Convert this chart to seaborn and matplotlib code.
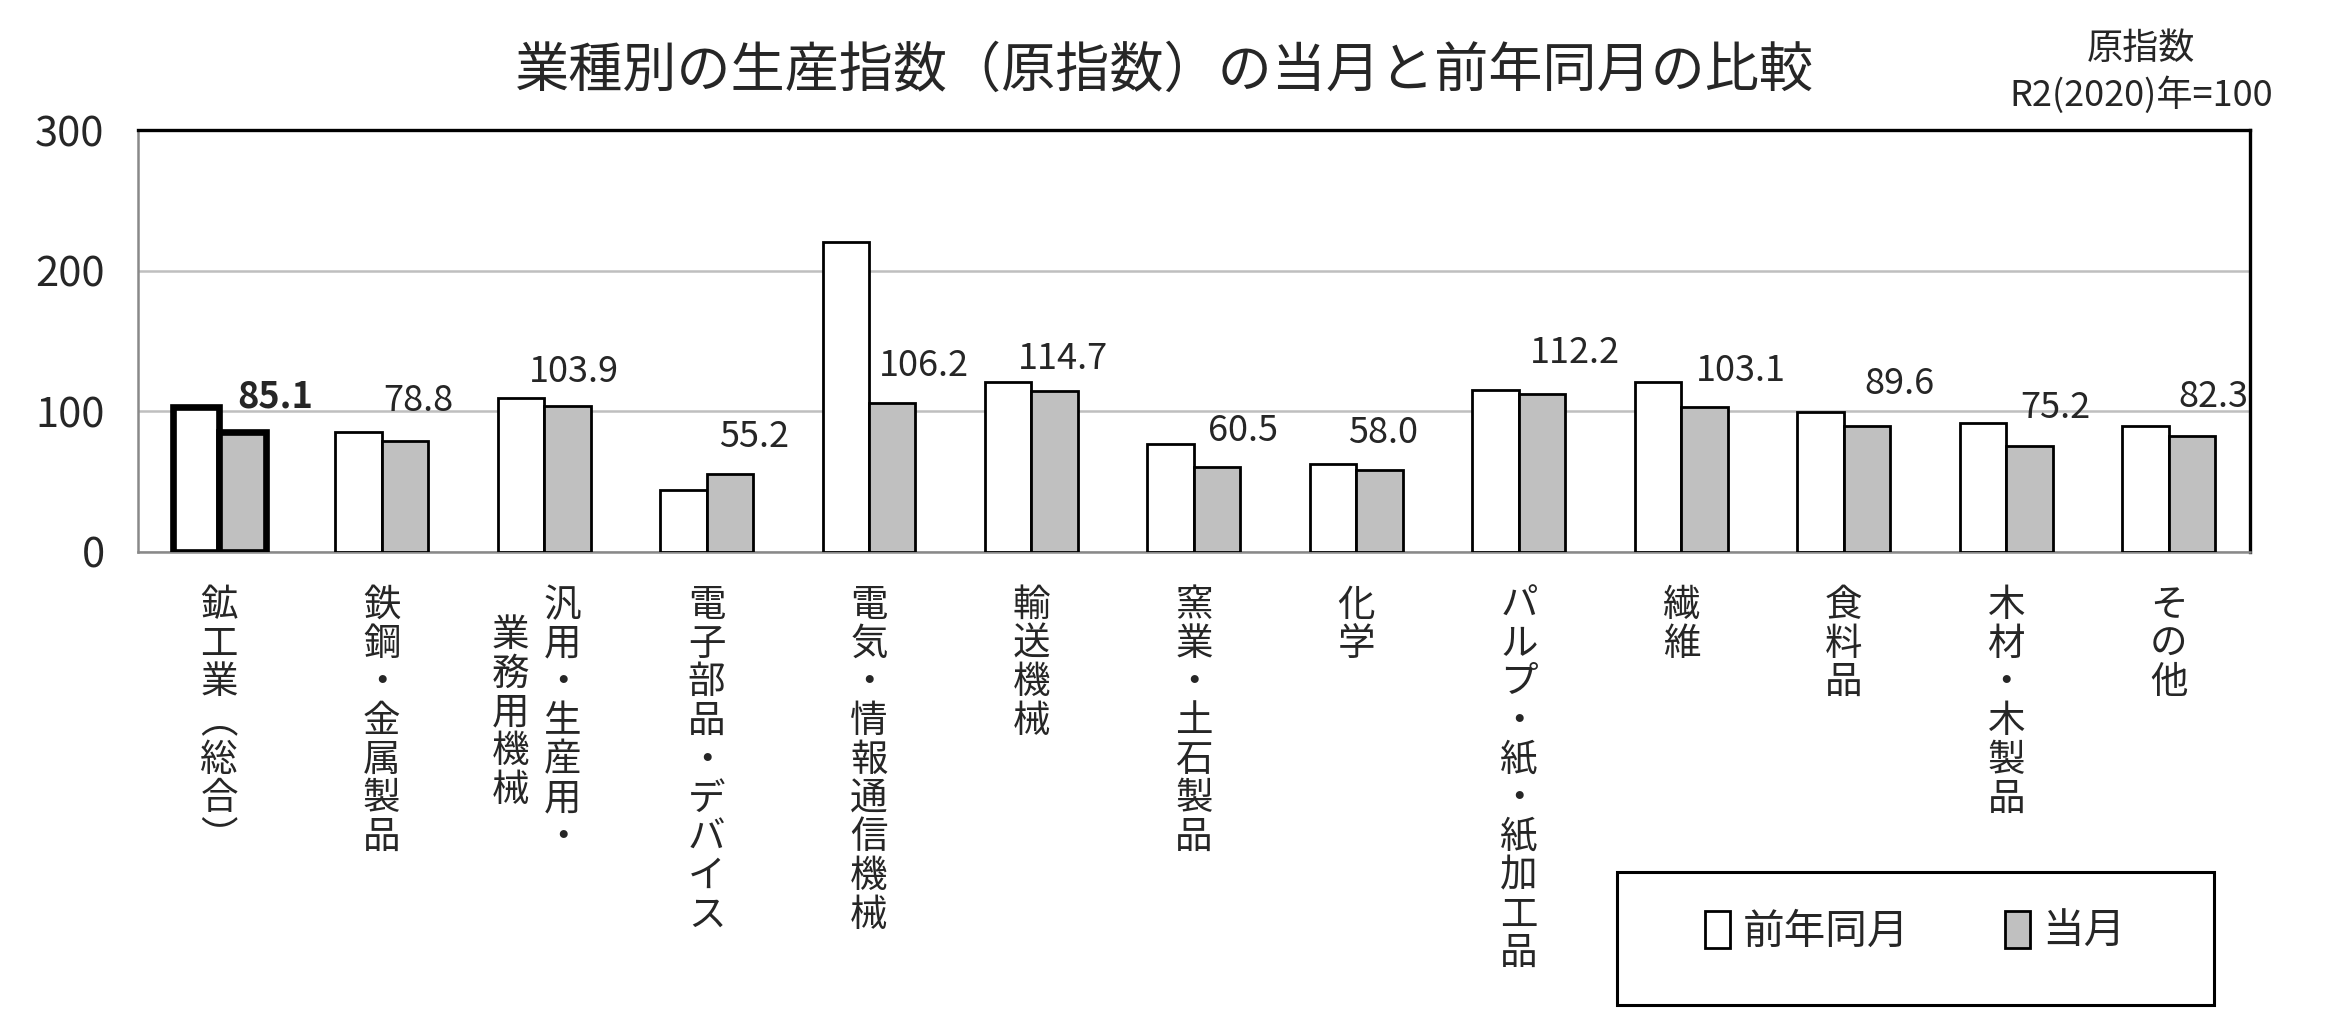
import numpy as np
import pandas as pd
import matplotlib
matplotlib.use("Agg")
import matplotlib.pyplot as plt
import seaborn as sns
from matplotlib.patches import Patch, Rectangle

# データ
categories = ["鉱工業（総合）", "鉄鋼・金属製品", "汎用・生産用・業務用機械", "電子部品・デバイス",
              "電気・情報通信機械", "輸送機械", "窯業・土石製品", "化学", "パルプ・紙・紙加工品",
              "繊維", "食料品", "木材・木製品", "その他"]
prev_year = [102.9, 85.7, 109.5, 44.0, 220.7, 120.7, 76.9, 62.4, 115.5, 121.0, 99.8, 92.1, 89.8]
current = [85.1, 78.8, 103.9, 55.2, 106.2, 114.7, 60.5, 58.0, 112.2, 103.1, 89.6, 75.2, 82.3]
series_names = ["前年同月", "当月"]
y_ticks = [0, 100, 200, 300]

# 縦書きラベル（列ごと、右の列から）
vertical_labels = [
    ["鉱工業︵総合︶"],
    ["鉄鋼・金属製品"],
    ["汎用・生産用・", "業務用機械"],
    ["電子部品・デバイス"],
    ["電気・情報通信機械"],
    ["輸送機械"],
    ["窯業・土石製品"],
    ["化学"],
    ["パルプ・紙・紙加工品"],
    ["繊維"],
    ["食料品"],
    ["木材・木製品"],
    ["その他"],
]

df = pd.DataFrame({
    "業種": categories * 2,
    "系列": [series_names[0]] * len(categories) + [series_names[1]] * len(categories),
    "指数": prev_year + current,
})

sns.set_style("white")
plt.rcParams["font.family"] = ["Noto Sans CJK JP", "DejaVu Sans"]

PX = 72 / 100  # px -> pt

fig = plt.figure(figsize=(23.26, 10.24), dpi=100)
ax = fig.add_axes([0.0593, 0.461, 0.908, 0.4116])

sns.barplot(data=df, x="業種", y="指数", hue="系列", palette=["white", "#c0c0c0"],
            edgecolor="black", linewidth=2.0, width=0.572, gap=0, saturation=1,
            legend=False, ax=ax, zorder=3)

# 鉱工業（総合）は太枠
for cont in ax.containers:
    cont[0].set_linewidth(4.8)

ax.set_ylim(0, 300)
ax.set_xlim(-0.5, len(categories) - 0.5)
ax.set_yticks(y_ticks)
ax.set_yticklabels([str(v) for v in y_ticks], fontsize=30)
ax.tick_params(axis="y", length=0, pad=24)
ax.set_xlabel("")
ax.set_ylabel("")
ax.yaxis.grid(True, color="#bfbfbf", linewidth=1.8, zorder=0)
ax.set_axisbelow(True)

ax.set_xticks(range(len(categories)))
ax.tick_params(axis="x", which="major", length=0, labelbottom=False)
ax.set_xticks(np.arange(-0.5, len(categories), 1), minor=True)
ax.tick_params(axis="x", which="minor", length=10, width=1.8, color="#898989", direction="out")

for side in ["left", "bottom"]:
    ax.spines[side].set_color("#898989")
    ax.spines[side].set_linewidth(1.8)
for side in ["top", "right"]:
    ax.spines[side].set_color("black")
    ax.spines[side].set_linewidth(2.4)

# 値ラベル（当月）
nudge_x = [33, 13, 7, 24, 32, 8, 26, 3, 33, 36, 32, 26, 21]
nudge_y = [17, 22, 16, 19, 19, 14, 18, 19, 23, 18, 24, 20, 21]
for i, v in enumerate(current):
    ax.annotate(f"{v:.1f}", xy=(i + 0.143, v), xytext=(nudge_x[i] * PX, nudge_y[i] * PX),
                textcoords="offset points", ha="center", va="bottom", fontsize=26,
                fontweight="bold" if i == 0 else "normal", zorder=5)

# 縦書きのカテゴリラベル
for i, cols in enumerate(vertical_labels):
    n = len(cols)
    for j, col in enumerate(cols):
        dx = (n - 1) / 2 * 37 - j * 52 if n > 1 else 0
        dy = -34 - j * 30
        ax.annotate("\n".join(col), xy=(i, 0), xycoords=("data", "axes fraction"),
                    xytext=(dx * PX, dy * PX), textcoords="offset points",
                    ha="center", va="top", fontsize=27, linespacing=0.99,
                    multialignment="center", annotation_clip=False)

fig.text(0.5005, 0.930, "業種別の生産指数（原指数）の当月と前年同月の比較",
         ha="center", va="center", fontsize=39)
fig.text(0.9206, 0.952, "原指数", ha="center", va="center", fontsize=26)
fig.text(0.9206, 0.907, "R2(2020)年=100", ha="center", va="center", fontsize=26)

# 凡例
fig.patches.append(Rectangle((0.6952, 0.0186), 0.2567, 0.1299, transform=fig.transFigure,
                             facecolor="white", edgecolor="black", linewidth=2.2, zorder=1))
handles = [Patch(facecolor="white", edgecolor="black", linewidth=2.0),
           Patch(facecolor="#c0c0c0", edgecolor="black", linewidth=2.0)]
fig.legend(handles, series_names, loc="center", bbox_to_anchor=(0.8235, 0.090), ncol=2,
           frameon=False, fontsize=30, handlelength=0.6, handleheight=1.0,
           handletextpad=0.3, columnspacing=2.3)

fig.savefig("out.png", dpi=100)
